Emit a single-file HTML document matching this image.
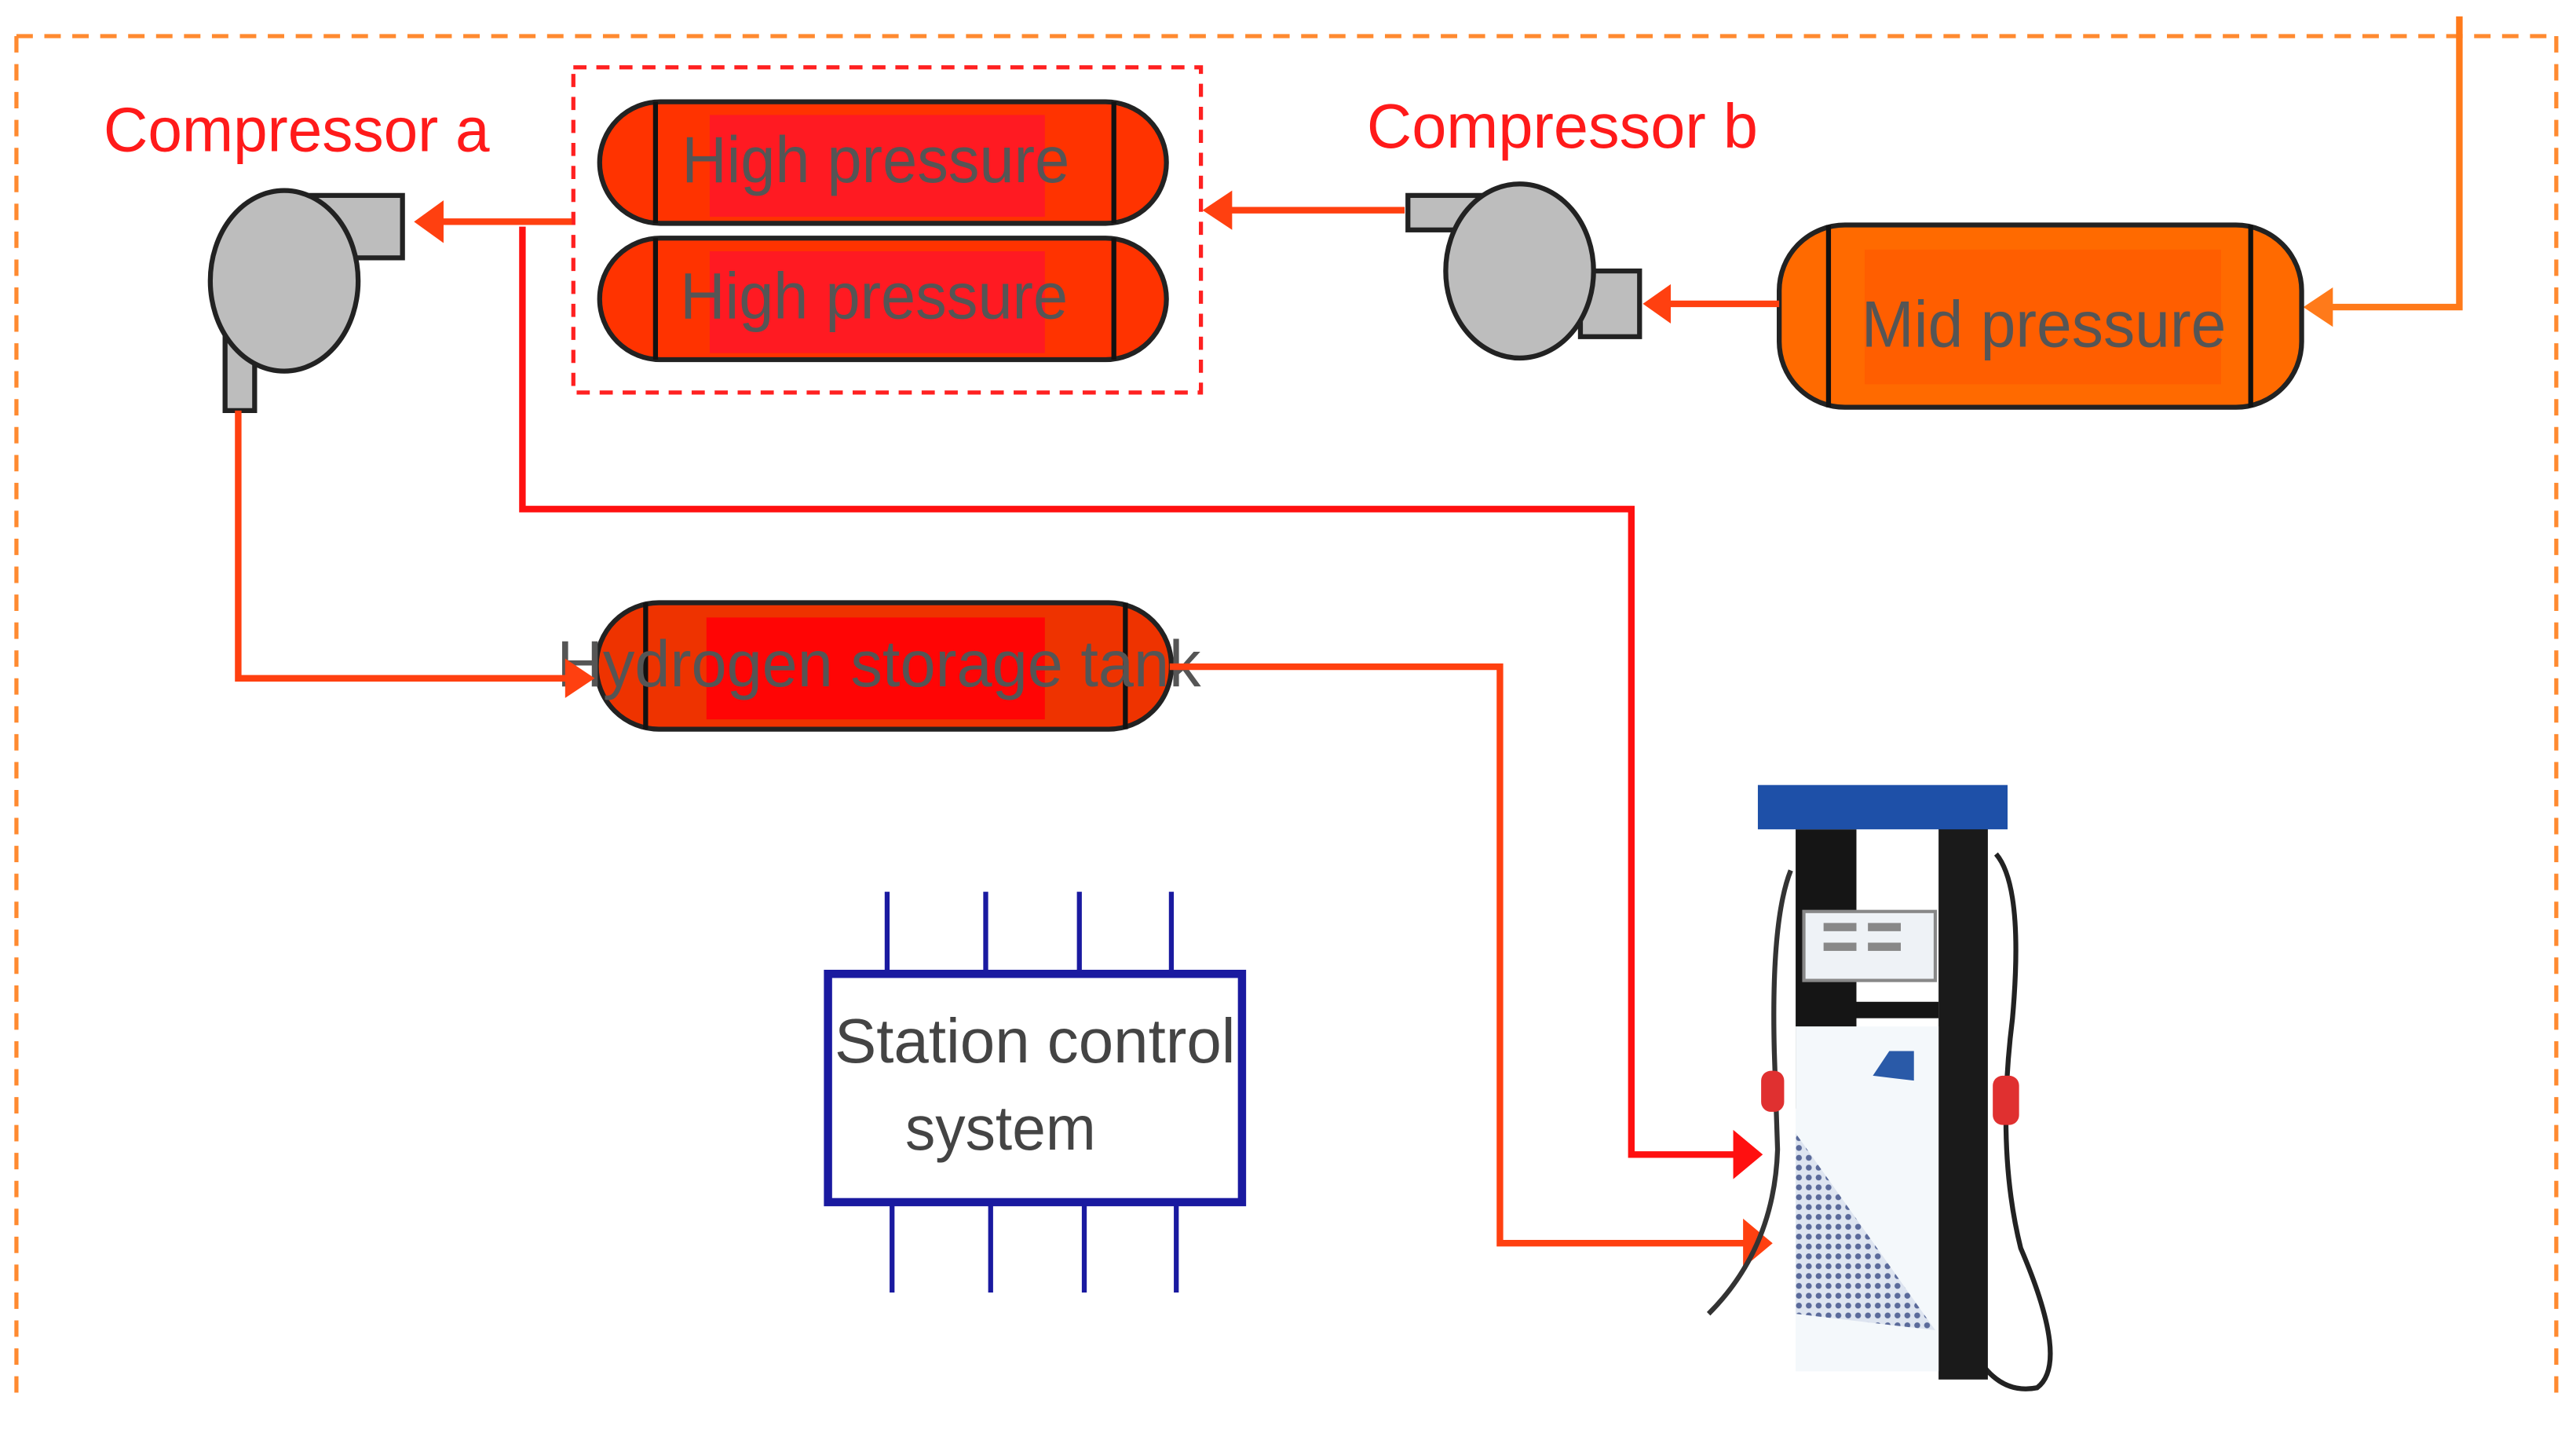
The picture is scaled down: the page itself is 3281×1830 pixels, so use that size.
<!DOCTYPE html>
<html><head><meta charset="utf-8"><style>html,body{margin:0;padding:0;background:#fff}svg{display:block}</style></head>
<body>
<svg width="3281" height="1830" viewBox="0 0 1568 875" preserveAspectRatio="none" xmlns="http://www.w3.org/2000/svg" font-family="Liberation Sans, sans-serif">
<defs>
<pattern id="mesh" width="6" height="6" patternUnits="userSpaceOnUse"><rect width="6" height="6" fill="#dde4f0"/><circle cx="3" cy="3" r="1.8" fill="#5a6a9a"/></pattern>
</defs>
<!-- outer dashed frame -->
<g stroke="#ff8a30" stroke-width="2.5" stroke-dasharray="10,7" fill="none">
<line x1="10" y1="22" x2="1556" y2="22"/>
<line x1="10" y1="22" x2="10" y2="850"/>
<line x1="1556" y1="22" x2="1556" y2="850"/>
</g>
<!-- inlet line -->
<polyline points="1497,10 1497,187 1415,187" fill="none" stroke="#ff7a1a" stroke-width="4"/>
<polygon points="1402,187 1420,175 1420,199" fill="#ff7a1a"/>
<!-- red dashed box -->
<rect x="349" y="41" width="382" height="198" fill="none" stroke="#ff2020" stroke-width="2.5" stroke-dasharray="8,6"/>
<!-- High pressure tanks -->
<g stroke="#222" stroke-width="3">
<rect x="365" y="62" width="345" height="74" rx="37" fill="#ff3300"/>
<rect x="365" y="145" width="345" height="74" rx="37" fill="#ff3300"/>
<rect x="363" y="367" width="350" height="77" rx="38" fill="#ee3300"/>
<rect x="1083" y="137" width="318" height="111" rx="40" fill="#ff6a00"/>
</g>
<rect x="432" y="70" width="204" height="62" fill="#ff1a22"/>
<rect x="432" y="153" width="204" height="62" fill="#ff1a22"/>
<rect x="430" y="376" width="206" height="62" fill="#ff0505"/>
<rect x="1135" y="152" width="217" height="82" fill="#ff5e00"/>
<g stroke="#111" stroke-width="3">
<line x1="399" y1="62" x2="399" y2="136"/><line x1="678" y1="62" x2="678" y2="136"/>
<line x1="399" y1="145" x2="399" y2="219"/><line x1="678" y1="145" x2="678" y2="219"/>
<line x1="393" y1="367" x2="393" y2="444"/><line x1="685" y1="367" x2="685" y2="444"/>
<line x1="1113" y1="137" x2="1113" y2="248"/><line x1="1370" y1="137" x2="1370" y2="248"/>
</g>
<g fill="#555" font-size="40">
<text x="415" y="111" textLength="236" lengthAdjust="spacingAndGlyphs">High pressure</text>
<text x="414" y="194" textLength="236" lengthAdjust="spacingAndGlyphs">High pressure</text>
<text x="339" y="418" textLength="392" lengthAdjust="spacingAndGlyphs">Hydrogen storage tank</text>
<text x="1133" y="211" textLength="222" lengthAdjust="spacingAndGlyphs">Mid pressure</text>
</g>
<!-- labels -->
<g fill="#ff1a1a" font-size="38">
<text x="63" y="92" textLength="235" lengthAdjust="spacingAndGlyphs">Compressor a</text>
<text x="832" y="90" textLength="238" lengthAdjust="spacingAndGlyphs">Compressor b</text>
</g>
<!-- compressor a -->
<g stroke="#222" stroke-width="3" fill="#bdbdbd">
<rect x="185" y="119" width="60" height="38"/>
<rect x="137" y="195" width="18" height="55"/>
<ellipse cx="173" cy="171" rx="45" ry="55"/>
</g>
<!-- compressor b -->
<g stroke="#222" stroke-width="3" fill="#bdbdbd">
<rect x="857" y="119" width="45" height="21"/>
<rect x="962" y="165" width="36" height="40"/>
<ellipse cx="925" cy="165" rx="45" ry="53"/>
</g>
<!-- flows -->
<g fill="none" stroke-width="4">
<line x1="1083" y1="185" x2="1012" y2="185" stroke="#ff4010"/>
<line x1="855" y1="128" x2="745" y2="128" stroke="#ff4010"/>
<line x1="348" y1="135" x2="265" y2="135" stroke="#ff4010"/>
<polyline points="318,138 318,310 993,310 993,703 1060,703" stroke="#ff1010"/>
<polyline points="145,250 145,413 350,413" stroke="#ff4010"/>
<polyline points="712,406 913,406 913,757 1065,757" stroke="#ff4010"/>
</g>
<polygon points="1000,185 1017,173 1017,197" fill="#ff4010"/>
<polygon points="732,128 750,116 750,140" fill="#ff4010"/>
<polygon points="252,135 270,122 270,148" fill="#ff4010"/>
<polygon points="1073,703 1055,688 1055,718" fill="#ff1010"/>
<polygon points="362,413 344,401 344,425" fill="#ff4010"/>
<polygon points="1079,757 1061,742 1061,772" fill="#ff4010"/>
<!-- station control -->
<g stroke="#1a1aa0" stroke-width="3">
<line x1="540" y1="543" x2="540" y2="592"/><line x1="600" y1="543" x2="600" y2="592"/>
<line x1="657" y1="543" x2="657" y2="592"/><line x1="713" y1="543" x2="713" y2="592"/>
<line x1="543" y1="733" x2="543" y2="787"/><line x1="603" y1="733" x2="603" y2="787"/>
<line x1="660" y1="733" x2="660" y2="787"/><line x1="716" y1="733" x2="716" y2="787"/>
</g>
<rect x="504" y="593" width="252" height="139" fill="#fff" stroke="#1a1aa0" stroke-width="5"/>
<g fill="#444" font-size="38">
<text x="508" y="647" textLength="244" lengthAdjust="spacingAndGlyphs">Station control</text>
<text x="551" y="700" textLength="116" lengthAdjust="spacingAndGlyphs">system</text>
</g>
<!-- dispenser -->
<g>
<path d="M1090,530 Q1078,560 1080,640 L1082,700 Q1080,760 1040,800" fill="none" stroke="#333" stroke-width="3"/>
<path d="M1215,520 Q1232,540 1225,620 Q1215,700 1230,760 Q1260,830 1240,845 Q1215,850 1200,820" fill="none" stroke="#222" stroke-width="3"/>
<rect x="1130" y="505" width="50" height="105" fill="#fff"/>
<rect x="1093" y="505" width="37" height="170" fill="#151515"/>
<rect x="1180" y="500" width="30" height="340" fill="#1a1a1a"/>
<rect x="1130" y="610" width="50" height="10" fill="#151515"/>
<rect x="1098" y="555" width="80" height="42" fill="#eef2f6" stroke="#888" stroke-width="2"/>
<g fill="#888"><rect x="1110" y="562" width="20" height="5"/><rect x="1137" y="562" width="20" height="5"/><rect x="1110" y="574" width="20" height="5"/><rect x="1137" y="574" width="20" height="5"/></g>
<rect x="1093" y="625" width="87" height="210" fill="#f4f8fb"/>
<polygon points="1093,690 1093,800 1178,810" fill="url(#mesh)"/>
<path d="M1140,655 L1150,640 L1165,640 L1165,658 Z" fill="#2a5aa8"/>
<rect x="1070" y="478" width="152" height="27" fill="#1e50a8"/>
<rect x="1072" y="652" width="14" height="25" rx="6" fill="#e03030"/>
<rect x="1213" y="655" width="16" height="30" rx="6" fill="#e03030"/>
</g>
</svg>
</body></html>
